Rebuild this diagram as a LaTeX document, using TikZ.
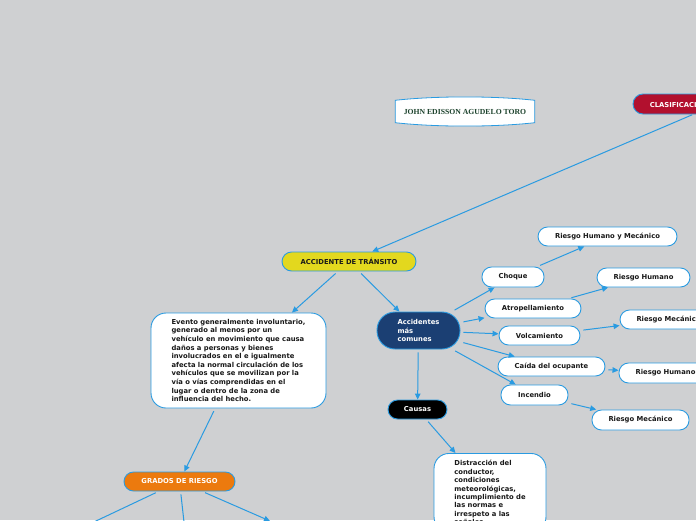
\documentclass[tikz,border=0pt]{standalone}
\usepackage{fontspec}
\setmainfont{DejaVu Sans}
\newfontfamily\namefont{Liberation Serif}
\usepackage{tikz}
\usetikzlibrary{arrows.meta, positioning, calc}
\pgfdeclarelayer{background}
\pgfsetlayers{background,main}
\definecolor{mapbg}{RGB}{207,208,210}
\definecolor{mapline}{RGB}{42,155,225}
\definecolor{mapyellow}{RGB}{227,216,30}
\definecolor{mapnavy}{RGB}{27,63,115}
\definecolor{maporange}{RGB}{236,122,14}
\definecolor{mapred}{RGB}{178,16,46}
\definecolor{mapgreen}{RGB}{28,66,44}
\definecolor{mapink}{RGB}{25,25,25}
\newcommand{\Txt}{\fontsize{6.8}{8.6}\selectfont\bfseries}
\tikzset{
    topic/.style={draw=mapline, line width=0.9pt, rounded corners=9.5pt, minimum height=19pt, inner sep=2pt, font=\Txt, text=mapink},
    leaf/.style={topic, fill=white},
    note/.style={draw=mapline, line width=0.9pt, fill=white, rounded corners=15pt, align=left, font=\Txt, text=mapink},
    link/.style={draw=mapline, line width=1pt, -{Triangle[length=6pt,width=5.5pt]}, shorten <=3pt},
}

\begin{document}
\begin{tikzpicture}[x=1pt, y=-1pt]
    \useasboundingbox (0,0) rectangle (696,520);
    \begin{pgfonlayer}{background}
      \fill[mapbg] (0,0) rectangle (696,520);
    \end{pgfonlayer}
    \clip (0,0) rectangle (696,520);

    % title and root
    \node[minimum width=139pt, minimum height=22pt, text=mapgreen,
      font=\namefont\fontsize{7.7}{9}\selectfont\bfseries] (name) at (465,111.5) {JOHN EDISSON AGUDELO TORO};
    \begin{pgfonlayer}{background}
      \draw[mapline, fill=white, line width=0.8pt] (name.north west) .. controls +(40,-4.5) and +(-40,-4.5) .. (name.north east)
        -- (name.south east) .. controls +(-40,4.5) and +(40,4.5) .. (name.south west) -- cycle;
    \end{pgfonlayer}
    \node[topic, fill=mapred, text=white, minimum width=92pt, minimum height=20pt, rounded corners=10pt] (clasif) at (679,104) {CLASIFICACIÓN};

    \node[topic, fill=mapyellow, minimum width=134pt] (transito) at (349,261.5) {ACCIDENTE DE TRÁNSITO};
    \draw ([xshift=14pt]clasif.south) edge[link, shorten <=1pt] (transito);

    % definition and degrees
    \node[note, minimum width=175pt, minimum height=95pt] (evento) at (238.5,360.5)
      {Evento generalmente involuntario,\\ generado al menos por un\\ vehículo en movimiento que causa\\
       daños a personas y bienes\\ involucrados en el e igualmente\\ afecta la normal circulación de los\\
       vehículos que se movilizan por la\\ vía o vías comprendidas en el\\ lugar o dentro de la zona de\\ influencia del hecho.};
    \node[topic, fill=maporange, text=white, minimum width=111pt] (grados) at (179.5,481.5) {GRADOS DE RIESGO};
    \coordinate (g1) at (60,538);
    \coordinate (g2) at (186,540);
    \coordinate (g3) at (270,521);

    \draw (transito) edge[link] (evento);
    \draw (evento) edge[link] (grados);
    \draw (grados) edge[link] (g1);
    \draw (grados) edge[link] (g2);
    \draw (grados) edge[link] (g3);

    % most common accidents
    \node[topic, fill=mapnavy, text=white, align=left, minimum width=83pt, minimum height=37pt, rounded corners=18pt,
      font=\fontsize{6.8}{8.4}\selectfont\bfseries] (comunes) at (418.5,330.5) {Accidentes\\ más\\ comunes};
    \node[topic, fill=black, text=white, minimum width=59pt] (causas) at (417.5,409.5) {Causas};
    \node[note, anchor=north, minimum width=112pt, inner ysep=7pt, font=\fontsize{6.8}{8.4}\selectfont\bfseries] (distraccion) at (490,453)
      {Distracción del\\ conductor,\\ condiciones\\ meteorológicas,\\ incumplimiento de\\ las normas e\\ irrespeto a las\\ señales};

    \draw (transito) edge[link] (comunes);
    \draw (comunes) edge[link] (causas);
    \draw (causas) edge[link] (distraccion);

    \node[leaf, minimum width=62pt, minimum height=20pt] (choque) at (513,277) {Choque};
    \node[leaf, minimum width=96pt] (atropello) at (533,308.5) {Atropellamiento};
    \node[leaf, minimum width=81pt] (vuelco) at (539.5,335.5) {Volcamiento};
    \node[leaf, minimum width=107pt] (caida) at (551.5,366.5) {Caída del ocupante};
    \node[leaf, minimum width=67pt, minimum height=20pt] (incendio) at (534.5,395) {Incendio};

    \draw (comunes) edge[link] (choque);
    \draw (comunes) edge[link] (atropello);
    \draw (comunes) edge[link] (vuelco);
    \draw (comunes) edge[link] (caida);
    \draw (comunes) edge[link] (incendio);

    % risks
    \node[leaf, minimum width=139pt] (riesgoA) at (607.5,236.5) {Riesgo Humano y Mecánico};
    \node[leaf, minimum width=93pt] (riesgoB) at (643.5,277.5) {Riesgo Humano};
    \node[leaf, minimum width=97pt] (riesgoC) at (668.5,319.5) {Riesgo Mecánico};
    \node[leaf, minimum width=93pt, minimum height=20pt] (riesgoD) at (665.5,373) {Riesgo Humano};
    \node[leaf, minimum width=97pt, minimum height=20pt] (riesgoE) at (640.5,420) {Riesgo Mecánico};

    \draw (choque) edge[link] (riesgoA);
    \draw (atropello) edge[link] (riesgoB);
    \draw (vuelco) edge[link] (riesgoC);
    \draw (caida) edge[link] (riesgoD);
    \draw (incendio) edge[link] (riesgoE);
\end{tikzpicture}
\end{document}
